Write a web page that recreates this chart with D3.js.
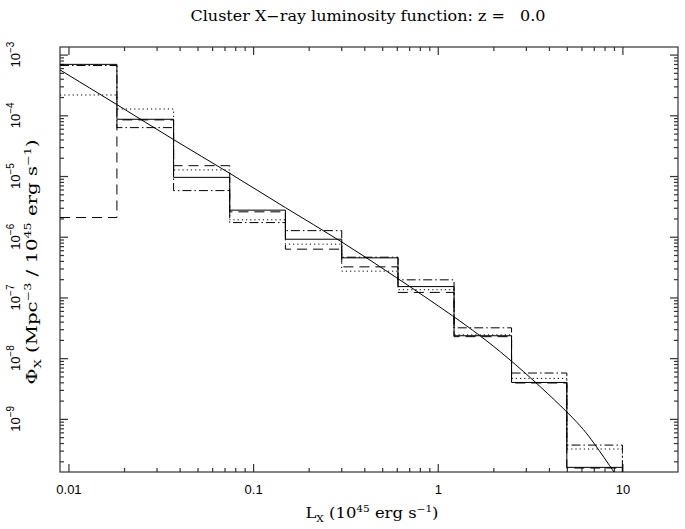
<!DOCTYPE html>
<meta charset="utf-8">
<style>
body { margin: 0; background: white; }
svg { background: white; }
.frame { fill: none; stroke: #333; stroke-width: 1.2px; }
.axis path { display: none; }
.axis line { stroke: #333; stroke-width: 1.2px; }
.axis text { font: 13px "Liberation Sans", Arial, sans-serif; fill: #000; }
.hist { fill: none; stroke: #000; stroke-width: 1px; }
.fit { fill: none; stroke: #000; stroke-width: 1px; }
.serif { font-family: "DejaVu Serif", "Liberation Serif", serif; fill: #000; white-space: pre; }
</style>
<svg width="685" height="529"></svg>
<script src="https://d3js.org/d3.v7.min.js"></script>
<script>

// bin edges in L_X (10^45 erg/s), roughly doubling
var binEdges = [0.009, 0.0183, 0.0371, 0.0747, 0.1496, 0.302, 0.609, 1.225, 2.51, 5.0, 10.0];

// luminosity function per bin, four histograms
var phiSolid   = [6.9e-4, 8.6e-5, 9.5e-6, 2.74e-6, 9.1e-7, 4.49e-7, 1.51e-7, 2.34e-8, 3.98e-9, 1.59e-10];
var phiDashed  = [2.07e-6, 8.4e-5, 1.48e-5, 2.57e-6, 6.24e-7, 3.19e-7, 1.21e-7, 2.26e-8, 3.9e-9, 1.55e-10];
var phiDotted  = [2.16e-4, 1.27e-4, 1.26e-5, 1.90e-6, 7.55e-7, 2.71e-7, 1.34e-7, 2.42e-8, 4.64e-9, 3.19e-10];
var phiDashDot = [6.6e-4, 6.27e-5, 5.75e-6, 1.71e-6, 1.26e-6, 4.6e-7, 1.95e-7, 3.16e-8, 5.69e-9, 3.7e-10];

// smooth model curve
var fitL   = [0.009, 0.0183, 0.037, 0.075, 0.15, 0.3, 0.6, 1.2, 2.4, 5, 7, 9, 10.5];
var fitPhi = [5.6e-4, 1.5e-4, 4.0e-5, 1.1e-5, 3.0e-6, 8.3e-7, 2.1e-7, 5.0e-8, 1.0e-8, 1.3e-9, 4.0e-10, 1.33e-10, 6.5e-11];

// ticks
var xTickValues = [0.01, 0.1, 1, 10];
var xTickLabels = ["0.01", "0.1", "1", "10"];
var yTickExponents = [-3, -4, -5, -6, -7, -8, -9];

var svg = d3.select("svg"),
    margin = {top: 47, right: 7, bottom: 57, left: 60},
    width = svg.attr("width") - margin.left - margin.right,
    height = svg.attr("height") - margin.top - margin.bottom,
    g = svg.append("g").attr("transform", "translate(" + margin.left + "," + margin.top + ")");

var x = d3.scaleLog().domain([0.009, 20]).range([0, width]),
    y = d3.scaleLog().domain([Math.pow(10, -9.875), Math.pow(10, -2.875)]).range([height, 0]);

// minor ticks: 2..9 times each decade, inside the domain
function minors(scale, lo, hi) {
  var out = [], d = scale.domain();
  for (var n = lo; n <= hi; n++) {
    for (var k = 2; k <= 9; k++) {
      var v = k * Math.pow(10, n);
      if (v > d[0] * 1.001 && v < d[1] * 0.999) out.push(v);
    }
  }
  return out;
}
var xMinor = minors(x, -3, 1),
    yMinor = minors(y, -10, -3),
    yMajor = yTickExponents.map(function(e) { return Math.pow(10, e); });

g.append("defs").append("clipPath").attr("id", "clip")
  .append("rect").attr("width", width).attr("height", height);

// axes: ticks point inward on all four sides
g.append("g").attr("class", "axis").attr("transform", "translate(0," + height + ")")
    .call(d3.axisBottom(x).tickValues(xTickValues).tickSize(-8).tickPadding(13)
      .tickFormat(function(d, i) { return xTickLabels[i]; }));
g.append("g").attr("class", "axis").attr("transform", "translate(0," + height + ")")
    .call(d3.axisBottom(x).tickValues(xMinor).tickSize(-4).tickFormat(""));
g.append("g").attr("class", "axis")
    .call(d3.axisTop(x).tickValues(xTickValues).tickSize(-8).tickFormat(""));
g.append("g").attr("class", "axis")
    .call(d3.axisTop(x).tickValues(xMinor).tickSize(-4).tickFormat(""));
g.append("g").attr("class", "axis")
    .call(d3.axisLeft(y).tickValues(yMajor).tickSize(-8).tickFormat(""));
g.append("g").attr("class", "axis")
    .call(d3.axisLeft(y).tickValues(yMinor).tickSize(-4).tickFormat(""));
g.append("g").attr("class", "axis").attr("transform", "translate(" + width + ",0)")
    .call(d3.axisRight(y).tickValues(yMajor).tickSize(-8).tickFormat(""));
g.append("g").attr("class", "axis").attr("transform", "translate(" + width + ",0)")
    .call(d3.axisRight(y).tickValues(yMinor).tickSize(-4).tickFormat(""));

// rotated y tick labels 10^n
var yl = g.selectAll(".ylab").data(yTickExponents).enter().append("text")
    .attr("class", "ylab")
    .attr("transform", function(d) { return "translate(-40," + y(Math.pow(10, d)) + ") rotate(-90)"; })
    .attr("text-anchor", "middle")
    .style("font", "13px 'Liberation Sans', Arial, sans-serif");
yl.append("tspan").text("10");
yl.append("tspan").attr("dy", -6).style("font-size", "10px").text(function(d) { return "\u2212" + (-d); });

g.append("rect").attr("class", "frame").attr("width", width).attr("height", height);

// histograms as step lines, dropping to the bottom after the last bin
var line = d3.line()
    .curve(d3.curveStepAfter)
    .x(function(d) { return x(d[0]); })
    .y(function(d) { return y(d[1]); });

function steps(vals) {
  var pts = vals.map(function(v, i) { return [binEdges[i], v]; });
  pts.push([binEdges[binEdges.length - 1], vals[vals.length - 1]]);
  pts.push([binEdges[binEdges.length - 1], 1e-11]);
  return pts;
}

var hists = [
  {vals: phiSolid, dash: null},
  {vals: phiDashed, dash: "10,6"},
  {vals: phiDotted, dash: "1.2,3"},
  {vals: phiDashDot, dash: "9,3,1.5,3"}
];

var plot = g.append("g").attr("clip-path", "url(#clip)");

plot.selectAll(".hist").data(hists).enter().append("path")
    .attr("class", "hist")
    .attr("d", function(d) { return line(steps(d.vals)); })
    .style("stroke-dasharray", function(d) { return d.dash; });

var fitLine = d3.line()
    .curve(d3.curveNatural)
    .x(function(d, i) { return x(fitL[i]); })
    .y(function(d) { return y(d); });

plot.append("path").attr("class", "fit").attr("d", fitLine(fitPhi));

// title and axis titles (stretched to the wide plotting font of the original)
svg.append("text").attr("class", "serif")
    .attr("x", 368).attr("y", 21).attr("text-anchor", "middle")
    .attr("textLength", 355).attr("lengthAdjust", "spacingAndGlyphs")
    .style("font-size", "14px")
    .text("Cluster X\u2212ray luminosity function: z =   0.0");

var xt = svg.append("text").attr("class", "serif")
    .attr("x", 372).attr("y", 518).attr("text-anchor", "middle")
    .attr("textLength", 133).attr("lengthAdjust", "spacingAndGlyphs")
    .style("font-size", "14px");
xt.append("tspan").text("L");
xt.append("tspan").attr("dy", 4).style("font-size", "9px").text("X");
xt.append("tspan").attr("dy", -4).text(" (10");
xt.append("tspan").attr("dy", -6).style("font-size", "9px").text("45");
xt.append("tspan").attr("dy", 6).text(" erg s");
xt.append("tspan").attr("dy", -6).style("font-size", "9px").text("\u22121");
xt.append("tspan").attr("dy", 6).text(")");

var yt = svg.append("text").attr("class", "serif")
    .attr("transform", "translate(37,262) rotate(-90)").attr("text-anchor", "middle")
    .attr("textLength", 245).attr("lengthAdjust", "spacingAndGlyphs")
    .style("font-size", "14px");
yt.append("tspan").text("\u03A6");
yt.append("tspan").attr("dy", 4).style("font-size", "9px").text("X");
yt.append("tspan").attr("dy", -4).text(" (Mpc");
yt.append("tspan").attr("dy", -6).style("font-size", "9px").text("\u22123");
yt.append("tspan").attr("dy", 6).text(" / 10");
yt.append("tspan").attr("dy", -6).style("font-size", "9px").text("45");
yt.append("tspan").attr("dy", 6).text(" erg s");
yt.append("tspan").attr("dy", -6).style("font-size", "9px").text("\u22121");
yt.append("tspan").attr("dy", 6).text(")");

</script>
